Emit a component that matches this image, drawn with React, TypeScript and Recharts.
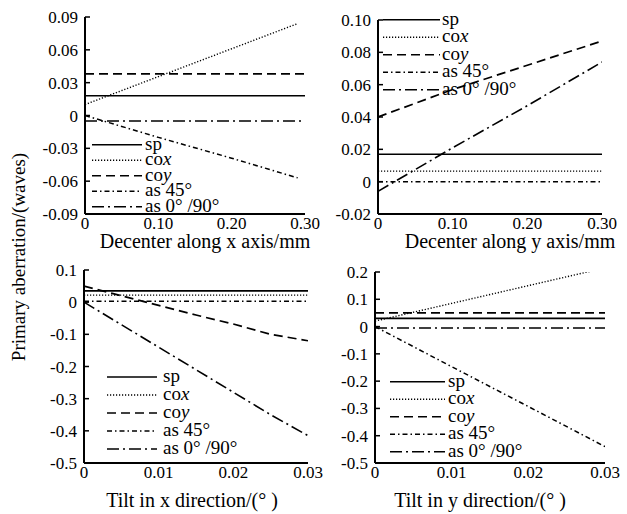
import React from 'react';
import { LineChart, Line, XAxis, YAxis, Legend } from 'recharts';

const FONT = 'Liberation Serif, Times New Roman, serif';

// Series identity
const seriesKeys = ['sp', 'cox', 'coy', 'as45', 'as090'];
const legendMain = ['sp', 'co', 'co', 'as 45°', 'as 0° /90°'];
const legendItalic = ['', 'x', 'y', '', ''];

// Panel 1: decenter along x
const decXPos = [0, 0.1, 0.2, 0.29, 0.3];
const decX_sp = [0.018, 0.018, 0.018, 0.018, 0.018];
const decX_cox = [0.01, 0.0355, 0.061, 0.084, null];
const decX_coy = [0.038, 0.038, 0.038, 0.038, 0.038];
const decX_as45 = [0.0, -0.02, -0.039, -0.057, null];
const decX_as090 = [-0.005, -0.005, -0.005, -0.005, -0.005];
const decXYTicks = [-0.09, -0.06, -0.03, 0, 0.03, 0.06, 0.09];
const decXXTicks = [0, 0.1, 0.2, 0.3];

// Panel 2: decenter along y
const decYPos = [0, 0.1, 0.2, 0.3];
const decY_sp = [0.017, 0.017, 0.017, 0.017];
const decY_cox = [0.0065, 0.0065, 0.0065, 0.0065];
const decY_coy = [0.04, 0.057, 0.072, 0.087];
const decY_as45 = [0, 0, 0, 0];
const decY_as090 = [-0.006, 0.021, 0.047, 0.074];
const decYYTicks = [-0.02, 0, 0.02, 0.04, 0.06, 0.08, 0.1];
const decYXTicks = [0, 0.1, 0.2, 0.3];

// Panel 3: tilt in x
const tiltXPos = [0, 0.005, 0.01, 0.015, 0.02, 0.025, 0.03];
const tiltX_sp = [0.035, 0.035, 0.035, 0.035, 0.035, 0.035, 0.035];
const tiltX_cox = [0.022, 0.022, 0.022, 0.022, 0.022, 0.022, 0.022];
const tiltX_coy = [0.05, 0.02, -0.01, -0.04, -0.068, -0.1, -0.12];
const tiltX_as45 = [0.003, 0.003, 0.003, 0.003, 0.003, 0.003, 0.003];
const tiltX_as090 = [0, -0.07, -0.14, -0.21, -0.28, -0.35, -0.415];
const tiltXYTicks = [-0.5, -0.4, -0.3, -0.2, -0.1, 0, 0.1];
const tiltXXTicks = [0, 0.01, 0.02, 0.03];

// Panel 4: tilt in y
const tiltYPos = [0, 0.01, 0.02, 0.03];
const tiltY_sp = [0.03, 0.03, 0.03, 0.03];
const tiltY_cox = [0.02, 0.085, 0.15, 0.215];
const tiltY_coy = [0.05, 0.05, 0.05, 0.05];
const tiltY_as45 = [0, -0.147, -0.293, -0.44];
const tiltY_as090 = [-0.005, -0.005, -0.005, -0.005];
const tiltYYTicks = [-0.5, -0.4, -0.3, -0.2, -0.1, 0, 0.1, 0.2];
const tiltYXTicks = [0, 0.01, 0.02, 0.03];

const dashes = ['0', '1.2 1.8', '9 5', '5 3 1.5 3', '12 4 2 4'];
const widths = [1.6, 1.4, 1.7, 1.5, 1.6];

function build(pos: number[], cols: (number | null)[][]) {
  return pos.map((x, i) => {
    const row: any = { x };
    seriesKeys.forEach((k, j) => {
      row[k] = cols[j][i];
    });
    return row;
  });
}

const fmt2 = (v: number) => (Math.abs(v) < 1e-9 ? '0' : v.toFixed(2));
const fmt1 = (v: number) => (Math.abs(v) < 1e-9 ? '0' : v.toFixed(1));

const textStyle = { fontFamily: FONT };

function LegendBox({ lineLen, gap, rowH }: { lineLen: number; gap: number; rowH: number }) {
  return (
    <svg width={170} height={rowH * 5 + 4} style={{ display: 'block', overflow: 'visible' }}>
      {seriesKeys.map((k, i) => {
        const y = rowH * i + rowH / 2;
        return (
          <g key={k}>
            <line
              x1={0}
              x2={lineLen}
              y1={y}
              y2={y}
              stroke="#000"
              strokeWidth={widths[i]}
              strokeDasharray={dashes[i]}
            />
            <text
              x={lineLen + gap}
              y={y + 5}
              style={textStyle}
              fontFamily={FONT}
              fontSize={19}
              fill="#000"
            >
              {legendMain[i]}
              {legendItalic[i] ? <tspan fontStyle="italic">{legendItalic[i]}</tspan> : null}
            </text>
          </g>
        );
      })}
    </svg>
  );
}

type PanelProps = {
  left: number;
  top: number;
  width: number;
  height: number;
  margin: { top: number; right: number; left: number; bottom: number };
  yWidth: number;
  xHeight: number;
  data: any[];
  xDomain: [number, number];
  yDomain: [number, number];
  xTicks: number[];
  yTicks: number[];
  xFmt: (v: number) => string;
  yFmt: (v: number) => string;
  title: React.ReactNode;
  titleDx: number;
  titleOffset: number;
  legendPos: { left: number; top: number; lineLen: number; gap: number; rowH: number };
};

function Panel(p: PanelProps) {
  return (
    <div style={{ position: 'absolute', left: p.left, top: p.top, width: p.width, height: p.height }}>
      <LineChart width={p.width} height={p.height} data={p.data} margin={p.margin} style={textStyle}>
        <XAxis
          type="number"
          dataKey="x"
          domain={p.xDomain}
          ticks={p.xTicks}
          interval={0}
          tickFormatter={p.xFmt}
          height={p.xHeight}
          tickLine={false}
          tickSize={0}
          tickMargin={3}
          axisLine={{ stroke: '#000', strokeWidth: 2 }}
          tick={{ fill: '#000', fontSize: 17, fontFamily: FONT, style: textStyle }}
          allowDataOverflow
          label={{
            value: p.title as any,
            position: 'insideBottom',
            offset: p.titleOffset,
            dx: p.titleDx,
            fill: '#000',
            fontSize: 20,
            fontFamily: FONT,
            style: textStyle,
          }}
        />
        <YAxis
          type="number"
          domain={p.yDomain}
          ticks={p.yTicks}
          interval={0}
          tickFormatter={p.yFmt}
          width={p.yWidth}
          tickSize={-5}
          tickMargin={12}
          tickLine={{ stroke: '#000', strokeWidth: 1.5 }}
          axisLine={{ stroke: '#000', strokeWidth: 2 }}
          tick={{ fill: '#000', fontSize: 17, fontFamily: FONT, style: textStyle }}
          allowDataOverflow
        />
        <Legend
          layout="vertical"
          align="center"
          verticalAlign="middle"
          wrapperStyle={{ left: p.legendPos.left, top: p.legendPos.top, width: 170 }}
          content={() => (
            <LegendBox lineLen={p.legendPos.lineLen} gap={p.legendPos.gap} rowH={p.legendPos.rowH} />
          )}
        />
        {seriesKeys.map((k, i) => (
          <Line
            key={k}
            dataKey={k}
            name={legendMain[i] + legendItalic[i]}
            stroke="#000"
            strokeWidth={widths[i]}
            strokeDasharray={dashes[i]}
            dot={false}
            activeDot={false}
            isAnimationActive={false}
            connectNulls={false}
            type="linear"
          />
        ))}
      </LineChart>
    </div>
  );
}

export default function App() {
  const d1 = build(decXPos, [decX_sp, decX_cox, decX_coy, decX_as45, decX_as090]);
  const d2 = build(decYPos, [decY_sp, decY_cox, decY_coy, decY_as45, decY_as090]);
  const d3 = build(tiltXPos, [tiltX_sp, tiltX_cox, tiltX_coy, tiltX_as45, tiltX_as090]);
  const d4 = build(tiltYPos, [tiltY_sp, tiltY_cox, tiltY_coy, tiltY_as45, tiltY_as090]);

  return (
    <div
      style={{
        position: 'absolute',
        left: 0,
        top: 0,
        width: 627,
        height: 514,
        background: '#fff',
        fontFamily: FONT,
      }}
    >
      <Panel
        left={0}
        top={0}
        width={335}
        height={257}
        margin={{ top: 17, right: 30, left: 0, bottom: 0 }}
        yWidth={85}
        xHeight={43}
        data={d1}
        xDomain={[0, 0.3]}
        yDomain={[-0.09, 0.09]}
        xTicks={decXXTicks}
        yTicks={decXYTicks}
        xFmt={fmt2}
        yFmt={fmt2}
        title="Decenter along x axis/mm"
        titleDx={10}
        titleOffset={9}
        legendPos={{ left: 92, top: 137, lineLen: 50, gap: 3, rowH: 15.5 }}
      />
      <Panel
        left={320}
        top={0}
        width={307}
        height={257}
        margin={{ top: 20, right: 25, left: 0, bottom: 0 }}
        yWidth={58}
        xHeight={43}
        data={d2}
        xDomain={[0, 0.3]}
        yDomain={[-0.02, 0.1]}
        xTicks={decYXTicks}
        yTicks={decYYTicks}
        xFmt={fmt2}
        yFmt={fmt2}
        title="Decenter along y axis/mm"
        titleDx={20}
        titleOffset={9}
        legendPos={{ left: 63, top: 11, lineLen: 57, gap: 2, rowH: 17.5 }}
      />
      <Panel
        left={0}
        top={250}
        width={335}
        height={264}
        margin={{ top: 20, right: 27, left: 0, bottom: 0 }}
        yWidth={84}
        xHeight={51}
        data={d3}
        xDomain={[0, 0.03]}
        yDomain={[-0.5, 0.1]}
        xTicks={tiltXXTicks}
        yTicks={tiltXYTicks}
        xFmt={fmt2}
        yFmt={fmt1}
        title="Tilt in x direction/(° )"
        titleDx={-4}
        titleOffset={7}
        legendPos={{ left: 107, top: 118, lineLen: 50, gap: 6, rowH: 18 }}
      />
      <Panel
        left={320}
        top={250}
        width={307}
        height={264}
        margin={{ top: 22, right: 22, left: 0, bottom: 0 }}
        yWidth={55}
        xHeight={51}
        data={d4}
        xDomain={[0, 0.03]}
        yDomain={[-0.5, 0.2]}
        xTicks={tiltYXTicks}
        yTicks={tiltYYTicks}
        xFmt={fmt2}
        yFmt={fmt1}
        title="Tilt in y direction/(° )"
        titleDx={-10}
        titleOffset={7}
        legendPos={{ left: 70, top: 123, lineLen: 55, gap: 3, rowH: 17.5 }}
      />
      <svg
        width={40}
        height={514}
        style={{ position: 'absolute', left: 0, top: 0, overflow: 'visible' }}
      >
        <text
          x={0}
          y={0}
          transform="translate(25,257) rotate(-90)"
          textAnchor="middle"
          style={textStyle}
          fontFamily={FONT}
          fontSize={19}
          fill="#000"
        >
          Primary aberration/(waves)
        </text>
      </svg>
    </div>
  );
}
